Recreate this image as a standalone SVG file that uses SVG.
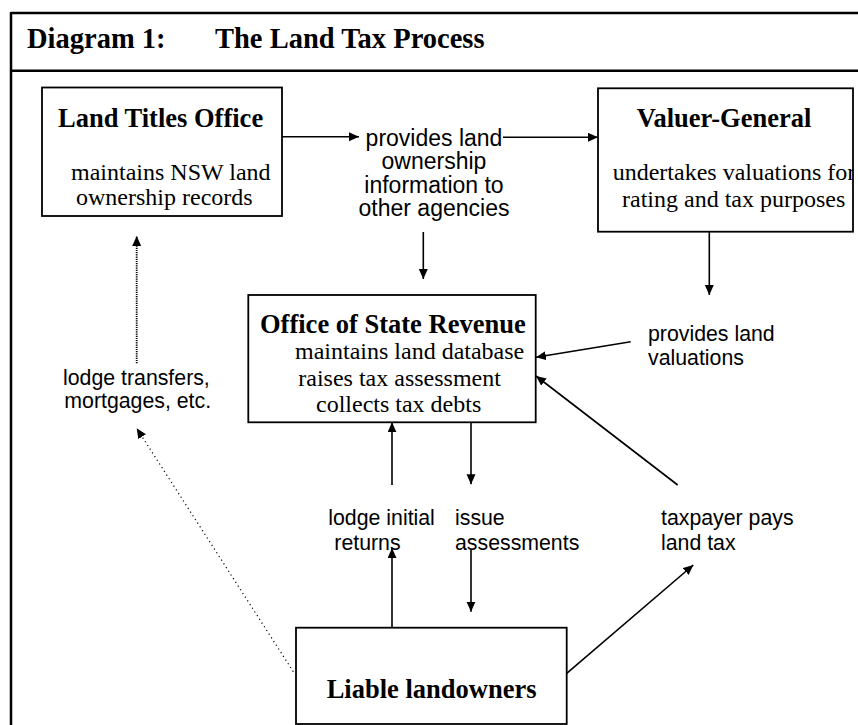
<svg xmlns="http://www.w3.org/2000/svg" width="858" height="725" viewBox="0 0 858 725">
<style>
.frame{fill:none;stroke:#000;stroke-width:2.5}
.box{fill:#fff;stroke:#000;stroke-width:1.8}
.hd{font-family:"Liberation Serif","Times New Roman",serif;font-weight:bold;font-size:28.5px;fill:#000}
.ttl{font-family:"Liberation Serif","Times New Roman",serif;font-weight:bold;font-size:26.5px;fill:#000}
.txt{font-family:"Liberation Serif","Times New Roman",serif;font-size:24px;fill:#000}
.lbl{font-family:"Liberation Sans",Arial,sans-serif;font-size:21.3px;fill:#000}
.lbl2{font-family:"Liberation Sans",Arial,sans-serif;font-size:23px;fill:#000}
.ln{fill:none;stroke:#000;stroke-width:1.6}
.dot1{fill:none;stroke:#000;stroke-width:1.8;stroke-dasharray:1.2 1}
.dot2{fill:none;stroke:#000;stroke-width:1.2;stroke-dasharray:1.2 3.2}
</style>
<defs>
<marker id="ah" markerUnits="userSpaceOnUse" markerWidth="10" markerHeight="10" refX="10" refY="4.5" orient="auto">
<path d="M0,0 L10,4.5 L0,9 z" fill="#000"/>
</marker>
<clipPath id="vgclip"><rect x="598" y="88" width="255" height="144"/></clipPath>
</defs>
<rect width="858" height="725" fill="#fff"/>
<g id="frame">
<line class="frame" x1="11" y1="13" x2="858" y2="13"/>
<line class="frame" x1="11" y1="70.7" x2="858" y2="70.7"/>
<line class="frame" x1="11" y1="12" x2="11" y2="725"/>
<text class="hd" x="27" y="48">Diagram 1:</text>
<text class="hd" x="215" y="48">The Land Tax Process</text>
</g>
<g id="lto">
<rect class="box" x="42" y="87.5" width="240" height="128.5"/>
<text class="ttl" x="58" y="127">Land Titles Office</text>
<text class="txt" x="71" y="180">maintains NSW land</text>
<text class="txt" x="76" y="205">ownership records</text>
</g>
<g id="vg">
<rect class="box" x="598" y="88.3" width="255" height="143.4"/>
<text class="ttl" x="636.7" y="127">Valuer-General</text>
<g clip-path="url(#vgclip)">
<text class="txt" x="612.7" y="180">undertakes valuations for</text>
</g>
<text class="txt" x="622" y="206.7">rating and tax purposes</text>
</g>
<g id="osr">
<rect class="box" x="248.3" y="295" width="287.4" height="127.3"/>
<text class="ttl" x="260" y="333.3">Office of State Revenue</text>
<text class="txt" x="295" y="358.5">maintains land database</text>
<text class="txt" x="298.3" y="385.7">raises tax assessment</text>
<text class="txt" x="316" y="411.7">collects tax debts</text>
</g>
<g id="liable">
<rect class="box" x="296" y="627.7" width="270.7" height="96.3"/>
<text class="ttl" x="326.7" y="698.3">Liable landowners</text>
</g>
<g id="labels">
<text class="lbl2" x="434" y="145.5" text-anchor="middle">provides land</text>
<text class="lbl2" x="434" y="169" text-anchor="middle">ownership</text>
<text class="lbl2" x="434" y="192.5" text-anchor="middle">information to</text>
<text class="lbl2" x="434" y="216" text-anchor="middle">other agencies</text>
<text class="lbl" x="648" y="340.7">provides land</text>
<text class="lbl" x="648" y="365">valuations</text>
<text class="lbl" x="63" y="385">lodge transfers,</text>
<text class="lbl" x="64.3" y="408.3">mortgages, etc.</text>
<text class="lbl" x="328.3" y="525">lodge initial</text>
<text class="lbl" x="334.3" y="550">returns</text>
<text class="lbl" x="455" y="525">issue</text>
<text class="lbl" x="455" y="550">assessments</text>
<text class="lbl" x="661" y="525">taxpayer pays</text>
<text class="lbl" x="661" y="550">land tax</text>
</g>
<g id="connectors">
<line class="ln" x1="282" y1="136.7" x2="359" y2="136.7" marker-end="url(#ah)"/>
<line class="ln" x1="503" y1="137.3" x2="598" y2="137.3" marker-end="url(#ah)"/>
<line class="ln" x1="423.3" y1="232" x2="423.3" y2="279" marker-end="url(#ah)"/>
<line class="ln" x1="709.3" y1="231.7" x2="709.3" y2="295" marker-end="url(#ah)"/>
<line class="ln" x1="630.7" y1="341.7" x2="536" y2="357.3" marker-end="url(#ah)"/>
<line class="ln" x1="677.7" y1="485" x2="536" y2="376" marker-end="url(#ah)"/>
<line class="ln" x1="392" y1="485" x2="392" y2="422.3" marker-end="url(#ah)"/>
<line class="ln" x1="471" y1="422.3" x2="471" y2="484.3" marker-end="url(#ah)"/>
<line class="ln" x1="392" y1="627.7" x2="392" y2="548" marker-end="url(#ah)"/>
<line class="ln" x1="471" y1="550" x2="471" y2="611.7" marker-end="url(#ah)"/>
<line class="ln" x1="566.7" y1="673.3" x2="693.3" y2="565" marker-end="url(#ah)"/>
<line class="dot1" x1="136.7" y1="363.3" x2="136.7" y2="236" marker-end="url(#ah)"/>
<line class="dot2" x1="293.3" y1="671.7" x2="136.7" y2="428.3" marker-end="url(#ah)"/>
</g>
</svg>
